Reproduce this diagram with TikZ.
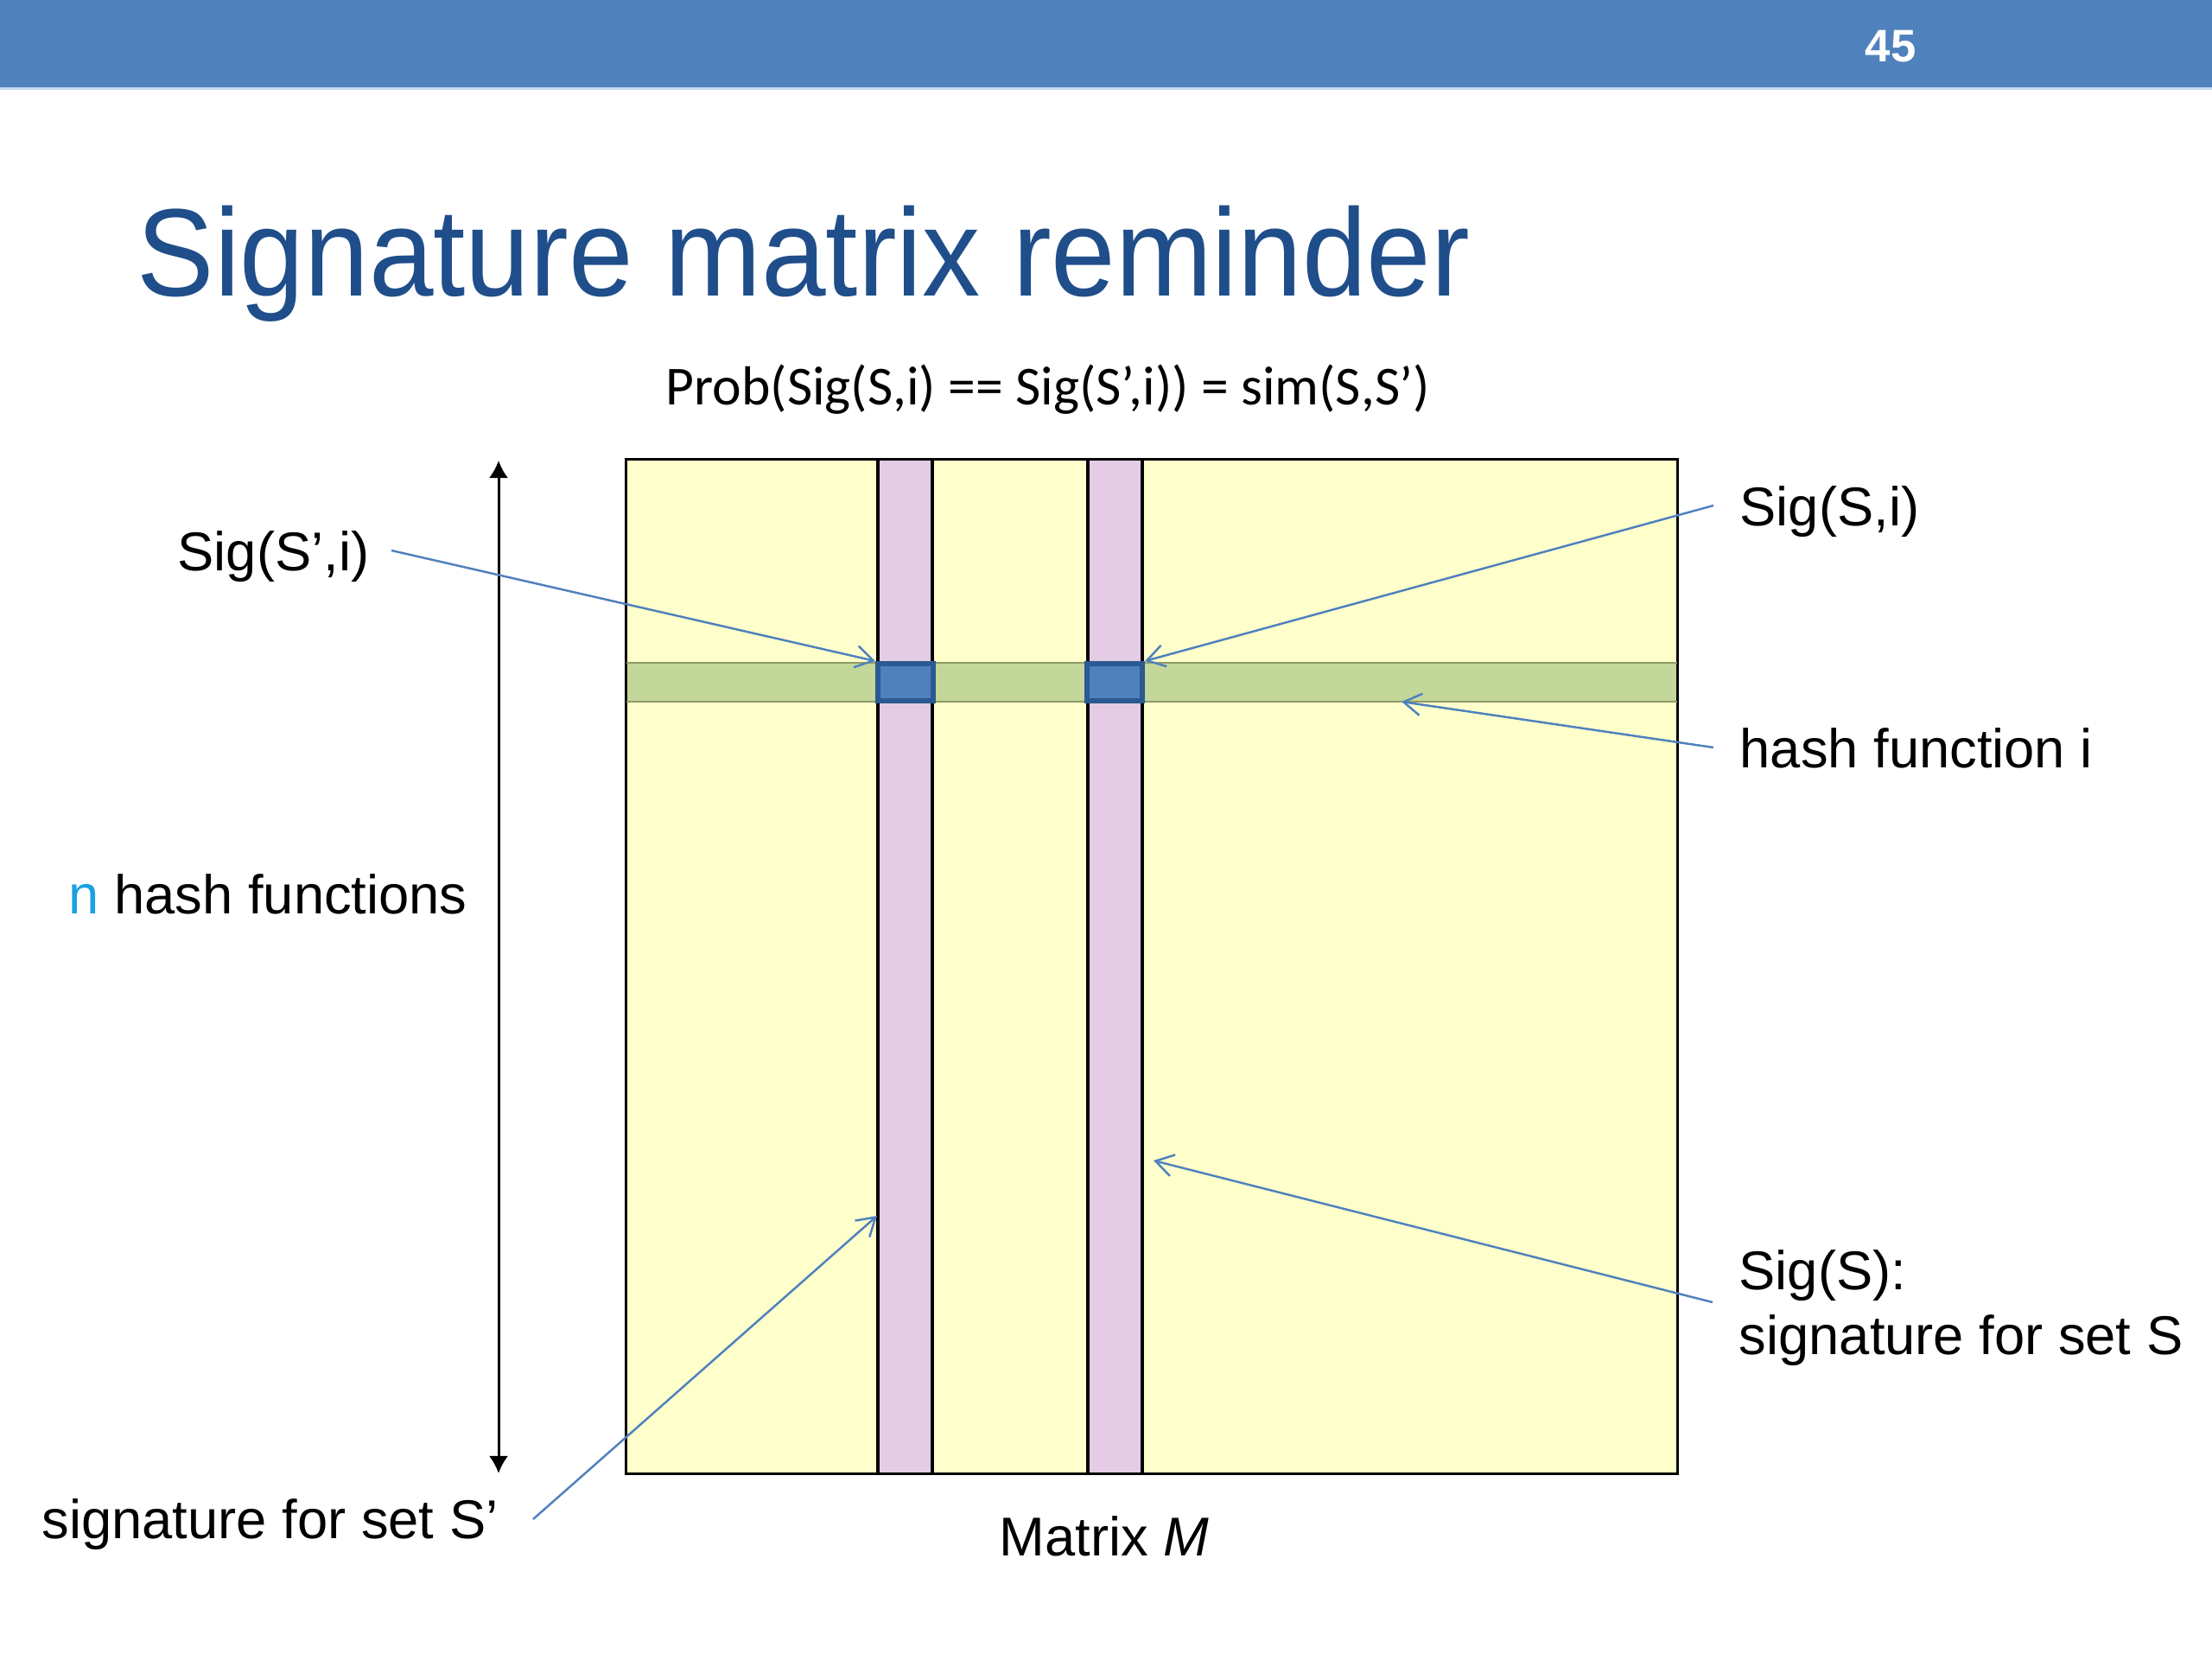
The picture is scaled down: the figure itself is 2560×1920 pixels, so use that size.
\documentclass[tikz,border=0pt]{standalone}
\usepackage{fontspec}
\setmainfont{Liberation Sans}
\newfontfamily\carl{Carlito}
\newfontfamily\titlefont[FakeStretch=0.93]{Liberation Sans}
\usetikzlibrary{arrows.meta}
\definecolor{barblue}{HTML}{4F81BD}
\definecolor{barline}{HTML}{C6D9F0}
\definecolor{titleblue}{HTML}{1F4E8A}
\definecolor{myellow}{HTML}{FFFFCC}
\definecolor{colpink}{HTML}{E4CCE4}
\definecolor{rowgreen}{HTML}{C4D79B}
\definecolor{rowline}{HTML}{8E9C64}
\definecolor{cellblue}{HTML}{4F81BD}
\definecolor{cellborder}{HTML}{2B5991}
\definecolor{conblue}{HTML}{4F81BD}
\definecolor{ncyan}{HTML}{1BA1E2}
\tikzset{
  lbl/.style={anchor=base west, inner sep=0pt, font=\fontsize{18pt}{19pt}\selectfont},
  colbox/.style={draw=black, fill=colpink, line width=1pt, minimum width=0.63cm, minimum height=11.73cm, inner sep=0pt},
  cellbox/.style={draw=cellborder, fill=cellblue, line width=1.7pt, minimum width=0.64cm, minimum height=0.43cm, inner sep=0pt},
  con/.style={draw=conblue, line width=0.7pt, -{Straight Barb[length=5.8pt,width=7.2pt]}},
}
\begin{document}
\begin{tikzpicture}[x=0.01cm,y=-0.01cm]
\useasboundingbox (0,0) rectangle (2560,1920);
\fill[white] (0,0) rectangle (2560,1920);
\fill[barblue] (0,0) rectangle (2560,101);
\fill[barline] (0,101) rectangle (2560,104);
\node[anchor=base, inner sep=0pt, text=white, font=\bfseries\fontsize{15pt}{15pt}\selectfont] (pnum) at (2188,71) {45};
\node[anchor=base west, inner sep=0pt, text=titleblue, font=\titlefont\fontsize{41pt}{41pt}\selectfont] (title) at (158,342) {Signature matrix reminder};
\node[anchor=base west, inner sep=0pt, font=\carl\fontsize{18.1pt}{19pt}\selectfont] (formula) at (770,468) {Prob(Sig(S,i) == Sig(S’,i)) = sim(S,S’)};
% matrix
\node[draw=black, fill=myellow, line width=1pt, minimum width=12.16cm, minimum height=11.73cm, inner sep=0pt] (mat) at (1333,1118.5) {};
\node[fill=rowgreen, minimum width=12.14cm, minimum height=0.43cm, inner sep=0pt] (row) at (1333,789.5) {};
\draw[rowline, line width=0.6pt] (row.north west) -- (row.north east);
\draw[rowline, line width=0.6pt] (row.south west) -- (row.south east);
\node[colbox] (colA) at (1047.5,1118.5) {};
\node[colbox] (colB) at (1290.5,1118.5) {};
\node[cellbox] (cellA) at (1048,789.5) {};
\node[cellbox] (cellB) at (1290,789.5) {};
% vertical double arrow
\coordinate (vtop) at (577,533);
\coordinate (vbot) at (577,1705);
\draw[line width=0.85pt, {Latex[length=5.7pt,width=6.3pt]}-{Latex[length=5.7pt,width=6.3pt]}] (vtop) -- (vbot);
% labels
\node[lbl] (sigSpi) at (205,660) {Sig(S’,i)};
\node[lbl] (nhash) at (79,1057) {\textcolor{ncyan}{n} hash functions};
\node[lbl] (sigSp) at (48,1780) {signature for set S’};
\node[lbl] (matlbl) at (1156,1800) {Matrix \textit{M}};
\node[lbl] (sigSi) at (2013,608) {Sig(S,i)};
\node[lbl] (hashi) at (2013,888) {hash function i};
\node[lbl] (sigS) at (2012,1492) {Sig(S):};
\node[lbl] (sigSdesc) at (2012,1567) {signature for set S};
% connector ends
\coordinate (c1s) at (453,637);
\coordinate (c2s) at (1983,585);
\coordinate (c3s) at (1983,865);
\coordinate (c3e) at (1622,812);
\coordinate (c4s) at (1982,1507);
\coordinate (c4e) at (1335,1343);
\coordinate (c5s) at (617,1758);
\coordinate (c5e) at (1015,1407);
\draw[con] (c1s) -- (cellA.north west);
\draw[con] (c2s) -- (cellB.north east);
\draw[con] (c3s) -- (c3e);
\draw[con] (c4s) -- (c4e);
\draw[con] (c5s) -- (c5e);
\end{tikzpicture}
\end{document}
